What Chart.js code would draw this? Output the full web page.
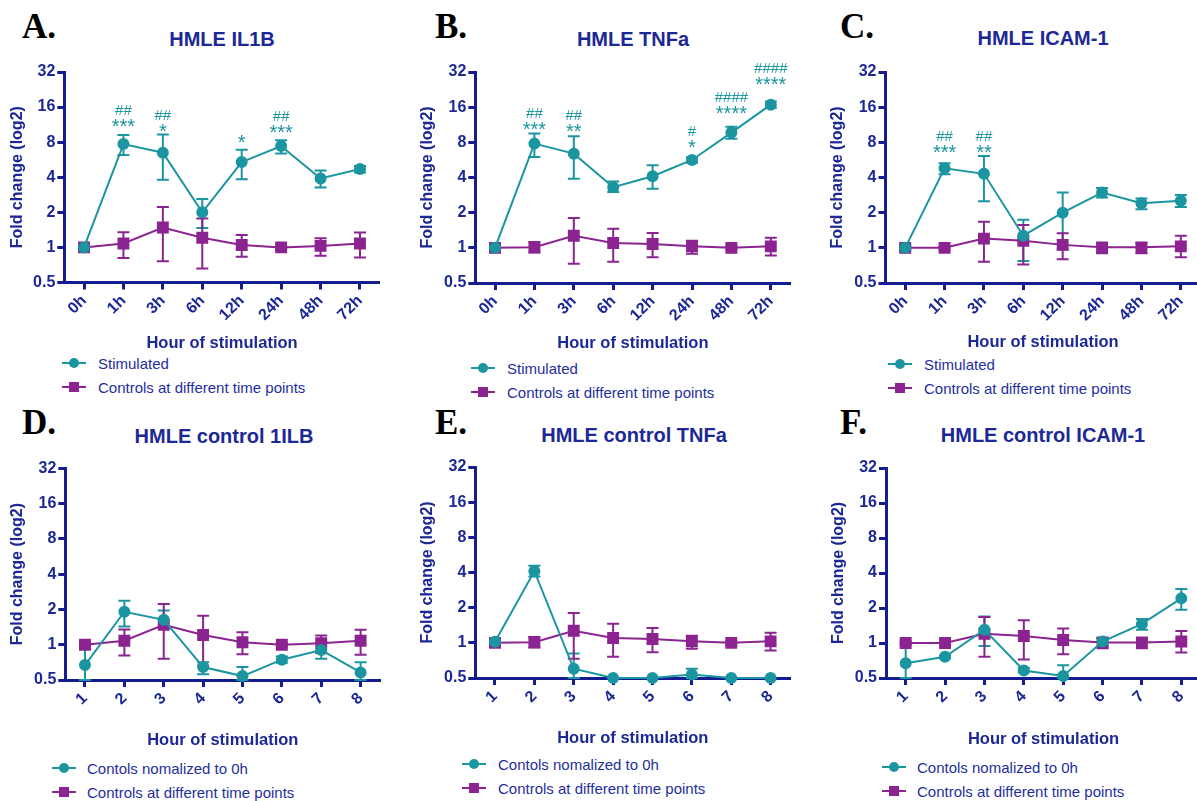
<!DOCTYPE html>
<html>
<head>
<meta charset="utf-8">
<script src="https://cdn.jsdelivr.net/npm/chart.js@4.4.1/dist/chart.umd.min.js"></script>
<style>
  body { margin: 0; width: 1197px; height: 801px; overflow: hidden; background: #fff; position: relative; }
  .letter { position: absolute; font: bold 35px "Liberation Serif", "Times New Roman", serif; color: #000; line-height: 1; }
  .title { position: absolute; font: bold 20px "Liberation Sans", Arial, sans-serif; color: #1c2895; line-height: 1;
           transform: translate(-50%, -50%); white-space: nowrap; }
  .lg { position: absolute; height: 20px; display: flex; align-items: center; white-space: nowrap;
        font: 15px "Liberation Sans", Arial, sans-serif; color: #1f2e9e; }
  canvas { position: absolute; }
</style>
</head>
<body>
<script>
// categories and ticks
var hours = ['0h', '1h', '3h', '6h', '12h', '24h', '48h', '72h'];
var points = ['1', '2', '3', '4', '5', '6', '7', '8'];
var yTicks = [0.5, 1, 2, 4, 8, 16, 32];

// A - IL1B
var il1bStim = [1, 7.7, 6.5, 2.0, 5.4, 7.4, 3.9, 4.7];
var il1bStimLo = [0.95, 6.2, 3.8, 1.47, 3.85, 6.4, 3.26, 4.4];
var il1bStimHi = [1.05, 9.2, 9.3, 2.6, 6.9, 8.3, 4.56, 5.0];
var il1bCtrl = [1, 1.08, 1.48, 1.21, 1.05, 1.0, 1.03, 1.08];
var il1bCtrlLo = [0.95, 0.81, 0.76, 0.66, 0.83, 0.97, 0.85, 0.82];
var il1bCtrlHi = [1.05, 1.35, 2.22, 1.77, 1.28, 1.03, 1.2, 1.34];
var il1bStars = ['', '***', '*', '', '*', '***', '', ''];
var il1bHash = ['', '##', '##', '', '', '##', '', ''];
var il1bSigAt = [null, 11.7, 10.6, null, 8.6, 10.4, null, null];

// B - TNFa
var tnfStim = [1.0, 7.8, 6.4, 3.3, 4.1, 5.65, 9.7, 16.8];
var tnfStimLo = [0.93, 6.0, 3.9, 3.0, 3.2, 5.36, 8.6, 15.8];
var tnfStimHi = [1.08, 9.5, 9.0, 3.7, 5.1, 5.95, 10.9, 17.9];
var tnfCtrl = [1, 1.01, 1.27, 1.1, 1.08, 1.03, 1.0, 1.03];
var tnfCtrlLo = [0.95, 0.91, 0.73, 0.76, 0.83, 0.89, 0.97, 0.86];
var tnfCtrlHi = [1.07, 1.12, 1.8, 1.46, 1.34, 1.15, 1.03, 1.22];
var tnfStars = ['', '***', '**', '', '', '*', '****', '****'];
var tnfHash = ['', '##', '##', '', '', '#', '####', '####'];
var tnfSigAt = [null, 11.1, 10.6, null, null, 7.8, 15.2, 27];

// C - ICAM-1
var icamStim = [1, 4.8, 4.3, 1.27, 2.0, 2.97, 2.41, 2.53];
var icamStimLo = [0.95, 4.27, 2.5, 0.77, 0.97, 2.7, 2.14, 2.24];
var icamStimHi = [1.05, 5.3, 6.1, 1.74, 2.97, 3.25, 2.64, 2.84];
var icamCtrl = [1, 1.0, 1.2, 1.15, 1.06, 1.01, 1.01, 1.03];
var icamCtrlLo = [0.97, 0.97, 0.76, 0.72, 0.8, 0.9, 0.9, 0.83];
var icamCtrlHi = [1.03, 1.03, 1.67, 1.57, 1.33, 1.1, 1.1, 1.27];
var icamStars = ['', '***', '**', '', '', '', '', ''];
var icamHash = ['', '##', '##', '', '', '', '', ''];
var icamSigAt = [null, 7.0, 7.0, null, null, null, null, null];

// D-F - controls normalized to 0h
var il1bNorm = [0.67, 1.91, 1.63, 0.645, 0.54, 0.745, 0.9, 0.58];
var il1bNormLo = [0.5, 1.43, 1.39, 0.56, 0.5, 0.7, 0.76, 0.5];
var il1bNormHi = [1.0, 2.37, 1.96, 0.71, 0.645, 0.795, 1.05, 0.71];
var tnfNorm = [1.02, 4.1, 0.6, 0.5, 0.5, 0.535, 0.5, 0.5];
var tnfNormLo = [0.93, 3.7, 0.5, 0.5, 0.5, 0.5, 0.5, 0.5];
var tnfNormHi = [1.08, 4.58, 0.81, 0.5, 0.5, 0.6, 0.5, 0.5];
var icamNorm = [0.67, 0.76, 1.3, 0.58, 0.52, 1.03, 1.46, 2.42];
var icamNormLo = [0.5, 0.74, 0.94, 0.56, 0.5, 0.94, 1.3, 1.93];
var icamNormHi = [1.0, 0.78, 1.69, 0.61, 0.645, 1.1, 1.61, 2.92];

var NAVY = '#141c8f', TEXT = '#1c2895', TEAL = '#1b95a0', PURPLE = '#8b2391';
var SANS = '"Liberation Sans", Arial, sans-serif';

// error bars from errLow / errHigh on each dataset
var errorBars = {
  id: 'errorBars',
  beforeDatasetsDraw: function (chart) {
    var ctx = chart.ctx, y = chart.scales.y;
    chart.data.datasets.forEach(function (ds, i) {
      var meta = chart.getDatasetMeta(i);
      ctx.save();
      ctx.strokeStyle = ds.borderColor;
      ctx.lineWidth = 2;
      meta.data.forEach(function (pt, j) {
        var top = y.getPixelForValue(ds.errHigh[j]);
        var bot = y.getPixelForValue(ds.errLow[j]);
        if (Math.abs(bot - top) < 1) return;
        ctx.beginPath();
        ctx.moveTo(pt.x, top); ctx.lineTo(pt.x, bot);
        ctx.moveTo(pt.x - 6, top); ctx.lineTo(pt.x + 6, top);
        ctx.moveTo(pt.x - 6, bot); ctx.lineTo(pt.x + 6, bot);
        ctx.stroke();
      });
      ctx.restore();
    });
  }
};

// significance marks (* and #) above the stimulated series
var sigMarks = {
  id: 'sigMarks',
  afterDatasetsDraw: function (chart) {
    var ds = chart.data.datasets[0];
    if (!ds.sigAt) return;
    var ctx = chart.ctx, x = chart.scales.x, y = chart.scales.y;
    ctx.save();
    ctx.fillStyle = TEAL;
    ctx.textAlign = 'center';
    ds.sigAt.forEach(function (v, j) {
      if (v == null) return;
      var px = x.getPixelForValue(j), py = y.getPixelForValue(v);
      ctx.font = '20px ' + SANS;
      ctx.fillText(ds.sigStars[j], px, py + 10);
      if (ds.sigHash[j]) {
        ctx.font = '15px ' + SANS;
        ctx.fillText(ds.sigHash[j], px, py - 8);
      }
    });
    ctx.restore();
  }
};

function addDiv(cls, html, left, top) {
  var d = document.createElement('div');
  d.className = cls;
  d.innerHTML = html;
  d.style.left = left + 'px';
  d.style.top = top + 'px';
  document.body.appendChild(d);
  return d;
}

function legendRow(x, y, textX, color, shape, text) {
  var mark = shape === 'circle'
    ? '<circle cx="12" cy="7" r="5" fill="' + color + '"/>'
    : '<rect x="7" y="2" width="10" height="10" fill="' + color + '"/>';
  var svg = '<svg width="24" height="14" style="flex:none"><line x1="0" y1="7" x2="24" y2="7" stroke="' + color +
    '" stroke-width="2"/>' + mark + '</svg>';
  addDiv('lg', svg + '<span style="margin-left:' + (textX - x - 24) + 'px">' + text + '</span>', x, y - 10);
}

function panel(p) {
  addDiv('letter', p.letter, p.letterX, p.letterY);
  addDiv('title', p.title, p.titleX, p.titleY);
  legendRow(p.lgX, p.lgY, p.lgTextX, TEAL, 'circle', p.names[0]);
  legendRow(p.lgX, p.lgY + 24, p.lgTextX, PURPLE, 'rect', p.names[1]);

  var cv = document.createElement('canvas');
  var w = p.canvasR - p.canvasL;
  var h = Math.round(p.xTitleY + 13 - p.canvasT);
  cv.width = w; cv.height = h;
  cv.style.left = p.canvasL + 'px';
  cv.style.top = p.canvasT + 'px';
  document.body.appendChild(cv);

  var tickFont = { family: SANS, size: 16, weight: 'bold' };
  new Chart(cv, {
    type: 'line',
    data: {
      labels: p.labels,
      datasets: [{
        label: p.names[0], data: p.teal, errLow: p.tealLo, errHigh: p.tealHi,
        sigStars: p.stars, sigHash: p.hash, sigAt: p.sigAt,
        borderColor: TEAL, backgroundColor: TEAL, borderWidth: 2,
        pointStyle: 'circle', pointRadius: 5, pointHoverRadius: 5, order: 0, clip: false
      }, {
        label: p.names[1], data: p.purple, errLow: p.purpleLo, errHigh: p.purpleHi,
        borderColor: PURPLE, backgroundColor: PURPLE, borderWidth: 2,
        pointStyle: 'rect', pointRadius: 7, pointHoverRadius: 7, order: 1, clip: false
      }]
    },
    options: {
      responsive: false,
      animation: false,
      events: [],
      layout: { padding: { top: p.area.t - p.canvasT, right: p.canvasR - p.area.r, left: 0, bottom: 0 } },
      plugins: { legend: { display: false }, tooltip: { enabled: false } },
      scales: {
        x: {
          offset: true,
          ticks: { minRotation: 45, maxRotation: 45, color: TEXT, font: tickFont, padding: 2 },
          grid: { drawOnChartArea: false, tickLength: 7, tickWidth: 3, tickColor: NAVY },
          border: { display: true, color: NAVY, width: 3 },
          title: { display: true, text: 'Hour of stimulation', color: TEXT,
                   font: { family: SANS, size: 16.5, weight: 'bold' }, padding: { top: 0, bottom: 3 } },
          afterFit: function (s) { s.height = h - (p.area.b - p.canvasT); }
        },
        y: {
          type: 'logarithmic', min: 0.5, max: 32,
          afterBuildTicks: function (s) { s.ticks = yTicks.map(function (v) { return { value: v }; }); },
          ticks: { color: TEXT, font: tickFont, padding: 2, autoSkip: false,
                   callback: function (v) { return String(v); } },
          grid: { drawOnChartArea: false, tickLength: 7, tickWidth: 3, tickColor: NAVY },
          border: { display: true, color: NAVY, width: 3 },
          title: { display: true, text: 'Fold change (log2)', color: TEXT,
                   font: { family: SANS, size: 16, weight: 'bold' },
                   padding: { top: p.yTitleX - p.canvasL - 9.6, bottom: 0 } },
          afterFit: function (s) { s.width = p.area.l - p.canvasL; }
        }
      }
    },
    plugins: [errorBars, sigMarks]
  });
}

var stimNames = ['Stimulated', 'Controls at different time points'];
var ctrlNames = ['Contols nomalized to 0h', 'Controls at different time points'];

panel({ letter: 'A.', letterX: 22, letterY: 9, title: 'HMLE IL1B', titleX: 222, titleY: 39,
  labels: hours, names: stimNames,
  teal: il1bStim, tealLo: il1bStimLo, tealHi: il1bStimHi,
  purple: il1bCtrl, purpleLo: il1bCtrlLo, purpleHi: il1bCtrlHi,
  stars: il1bStars, hash: il1bHash, sigAt: il1bSigAt,
  canvasL: 0, canvasR: 395, canvasT: 60, area: { l: 64.3, r: 379.7, t: 72, b: 282.5 },
  xTitleY: 343, yTitleX: 18, lgX: 62, lgY: 363, lgTextX: 98 });

panel({ letter: 'B.', letterX: 435, letterY: 9, title: 'HMLE TNFa', titleX: 633, titleY: 39,
  labels: hours, names: stimNames,
  teal: tnfStim, tealLo: tnfStimLo, tealHi: tnfStimHi,
  purple: tnfCtrl, purpleLo: tnfCtrlLo, purpleHi: tnfCtrlHi,
  stars: tnfStars, hash: tnfHash, sigAt: tnfSigAt,
  canvasL: 410, canvasR: 805, canvasT: 60, area: { l: 475.3, r: 790.5, t: 72, b: 283 },
  xTitleY: 343, yTitleX: 428, lgX: 471, lgY: 368, lgTextX: 507 });

panel({ letter: 'C.', letterX: 840, letterY: 9, title: 'HMLE ICAM-1', titleX: 1043, titleY: 38,
  labels: hours, names: stimNames,
  teal: icamStim, tealLo: icamStimLo, tealHi: icamStimHi,
  purple: icamCtrl, purpleLo: icamCtrlLo, purpleHi: icamCtrlHi,
  stars: icamStars, hash: icamHash, sigAt: icamSigAt,
  canvasL: 820, canvasR: 1215, canvasT: 60, area: { l: 885.5, r: 1200.5, t: 72, b: 283 },
  xTitleY: 342, yTitleX: 838, lgX: 888, lgY: 364, lgTextX: 924 });

panel({ letter: 'D.', letterX: 22, letterY: 405, title: 'HMLE control 1ILB', titleX: 224, titleY: 436,
  labels: points, names: ctrlNames,
  teal: il1bNorm, tealLo: il1bNormLo, tealHi: il1bNormHi,
  purple: il1bCtrl, purpleLo: il1bCtrlLo, purpleHi: il1bCtrlHi,
  canvasL: 0, canvasR: 395, canvasT: 455, area: { l: 65.3, r: 380.3, t: 468.3, b: 680 },
  xTitleY: 740, yTitleX: 18, lgX: 52, lgY: 768, lgTextX: 87 });

panel({ letter: 'E.', letterX: 435, letterY: 405, title: 'HMLE control TNFa', titleX: 634, titleY: 435,
  labels: points, names: ctrlNames,
  teal: tnfNorm, tealLo: tnfNormLo, tealHi: tnfNormHi,
  purple: tnfCtrl, purpleLo: tnfCtrlLo, purpleHi: tnfCtrlHi,
  canvasL: 410, canvasR: 805, canvasT: 455, area: { l: 475.3, r: 790.3, t: 467, b: 678 },
  xTitleY: 738, yTitleX: 428, lgX: 462, lgY: 764, lgTextX: 498 });

panel({ letter: 'F.', letterX: 840, letterY: 405, title: 'HMLE control ICAM-1', titleX: 1043, titleY: 435,
  labels: points, names: ctrlNames,
  teal: icamNorm, tealLo: icamNormLo, tealHi: icamNormHi,
  purple: icamCtrl, purpleLo: icamCtrlLo, purpleHi: icamCtrlHi,
  canvasL: 820, canvasR: 1215, canvasT: 455, area: { l: 886, r: 1201, t: 468, b: 678 },
  xTitleY: 739, yTitleX: 839, lgX: 882, lgY: 767, lgTextX: 917 });
</script>
</body>
</html>
